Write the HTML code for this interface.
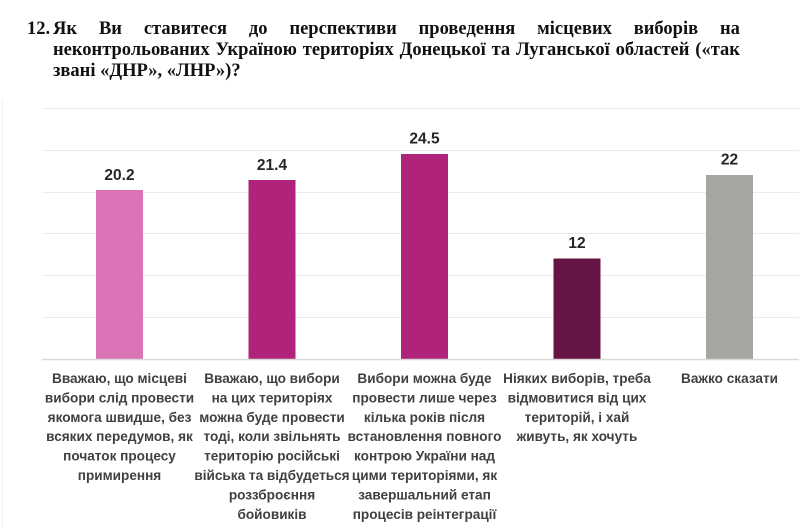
<!DOCTYPE html>
<html>
<head>
<meta charset="utf-8">
<style>
  html, body { margin:0; padding:0; background:#ffffff; }
  body { width:799px; height:527px; position:relative; overflow:hidden; }
  .title { position:absolute; left:53px; width:687px; font-family:"Liberation Serif", serif; font-weight:bold; font-size:18.5px; color:#111; line-height:21px; white-space:nowrap; }
  .j { display:flex; justify-content:space-between; }
  .num { position:absolute; left:27px; top:19px; font-family:"Liberation Serif", serif; font-weight:bold; font-size:18.5px; color:#111; line-height:21px; }
  svg { position:absolute; left:0; top:0; }
</style>
</head>
<body>
<svg width="799" height="527" viewBox="0 0 799 527" xmlns="http://www.w3.org/2000/svg">
  <line x1="2.5" y1="100" x2="2.5" y2="527" stroke="#f0f0f0" stroke-width="1"/>
  <g stroke="#ebebeb" stroke-width="1">
    <line x1="42" y1="108.5" x2="799" y2="108.5"/>
    <line x1="42" y1="150.5" x2="799" y2="150.5"/>
    <line x1="42" y1="192.5" x2="799" y2="192.5"/>
    <line x1="42" y1="233.5" x2="799" y2="233.5"/>
    <line x1="42" y1="275.5" x2="799" y2="275.5"/>
    <line x1="42" y1="317.5" x2="799" y2="317.5"/>
  </g>
  <rect x="96" y="190" width="47" height="169" fill="#DB74B6"/>
  <rect x="248.5" y="180" width="47" height="179" fill="#AF237B"/>
  <rect x="401" y="154" width="47" height="205" fill="#AF237B"/>
  <rect x="553.5" y="258.5" width="47" height="100.5" fill="#661443"/>
  <rect x="706" y="175" width="47" height="184" fill="#A5A6A1"/>
  <line x1="42" y1="359.5" x2="799" y2="359.5" stroke="#d9d9d9" stroke-width="1.5"/>

  <g font-family="Liberation Sans, sans-serif" font-weight="bold" font-size="15.5" fill="#262626" text-anchor="middle">
    <text x="119.5" y="180">20.2</text>
    <text x="272" y="170">21.4</text>
    <text x="424.5" y="143.5">24.5</text>
    <text x="577" y="248">12</text>
    <text x="729.5" y="164.5">22</text>
  </g>

  <g font-family="Liberation Sans, sans-serif" font-weight="bold" font-size="13.6" fill="#404040" text-anchor="middle">
    <text x="119.5" y="383">Вважаю, що місцеві</text>
    <text x="119.5" y="402.4">вибори слід провести</text>
    <text x="119.5" y="421.8">якомога швидше, без</text>
    <text x="119.5" y="441.2">всяких передумов, як</text>
    <text x="119.5" y="460.6">початок процесу</text>
    <text x="119.5" y="480">примирення</text>

    <text x="272" y="383">Вважаю, що вибори</text>
    <text x="272" y="402.4">на цих територіях</text>
    <text x="272" y="421.8">можна буде провести</text>
    <text x="272" y="441.2">тоді, коли звільнять</text>
    <text x="272" y="460.6">територію російські</text>
    <text x="272" y="480">війська та відбудеться</text>
    <text x="272" y="499.4">роззброєння</text>
    <text x="272" y="518.8">бойовиків</text>

    <text x="424.5" y="383">Вибори можна буде</text>
    <text x="424.5" y="402.4">провести лише через</text>
    <text x="424.5" y="421.8">кілька років після</text>
    <text x="424.5" y="441.2">встановлення повного</text>
    <text x="424.5" y="460.6">контрою України над</text>
    <text x="424.5" y="480">цими територіями, як</text>
    <text x="424.5" y="499.4">завершальний етап</text>
    <text x="424.5" y="518.8">процесів реінтеграції</text>

    <text x="577" y="383">Ніяких виборів, треба</text>
    <text x="577" y="402.4">відмовитися від цих</text>
    <text x="577" y="421.8">територій, і хай</text>
    <text x="577" y="441.2">живуть, як хочуть</text>

    <text x="729.5" y="383">Важко сказати</text>
  </g>
</svg>
<div class="num">12.</div>
<div class="title j" style="top:19px;"><span>Як</span><span>Ви</span><span>ставитеся</span><span>до</span><span>перспективи</span><span>проведення</span><span>місцевих</span><span>виборів</span><span>на</span></div>
<div class="title j" style="top:40px;"><span>неконтрольованих</span><span>Україною</span><span>територіях</span><span>Донецької</span><span>та</span><span>Луганської</span><span>областей</span><span>(«так</span></div>
<div class="title" style="top:61px;">звані «ДНР», «ЛНР»)?</div>
</body>
</html>
